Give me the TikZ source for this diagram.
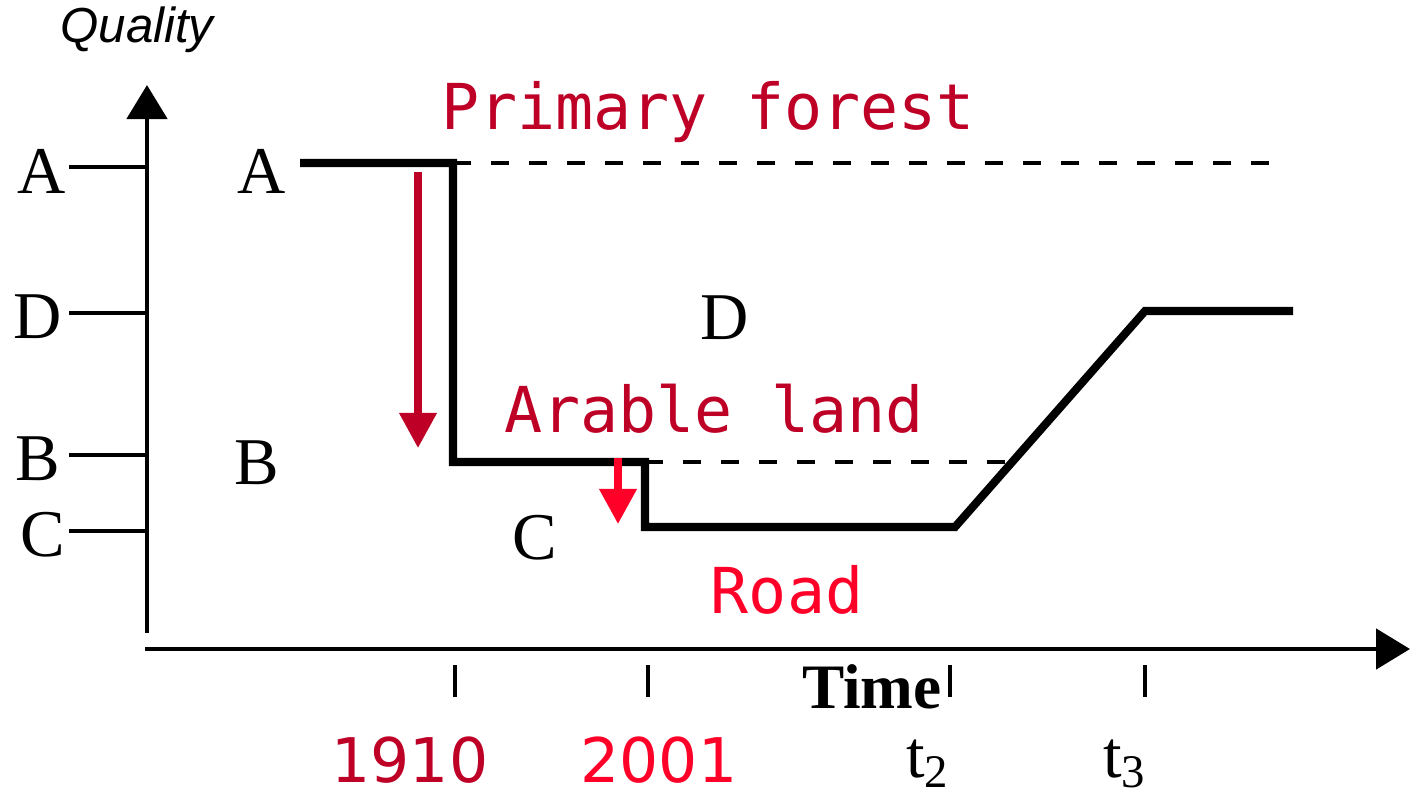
\documentclass[tikz,border=0pt]{standalone}
\usepackage{fontspec}
\setmainfont{Liberation Serif}
\newfontfamily\landfont{DejaVu Sans Mono}
\newfontfamily\yearfont{DejaVu Sans}
\newfontfamily\axisfont{Liberation Sans}
\usetikzlibrary{arrows.meta,positioning}
\definecolor{darkred}{RGB}{190,0,38}
\definecolor{brightred}{RGB}{255,0,41}

\begin{document}
\begin{tikzpicture}[x=0.01cm, y=-0.01cm,
  axis/.style={line width=1.4pt, -{Triangle[length=0.34cm, width=0.4cm]}},
  level/.style={line width=1.4pt},
  guide/.style={line width=1.4pt, dash pattern=on 0.18cm off 0.2cm},
  curve/.style={line width=2.3pt, line join=miter},
  tick/.style={line width=1.1pt},
  change/.style={line width=2pt, -{Triangle[length=0.35cm, width=0.36cm]}},
  grade/.style={inner sep=0pt, font=\fontsize{19}{19}\selectfont},
  landuse/.style={inner sep=0pt, font=\landfont\fontsize{18}{18}\selectfont},
  year/.style={inner sep=0pt, font=\yearfont\fontsize{17.5}{17.5}\selectfont}
]
\useasboundingbox (0,0) rectangle (1410,794);

% Axes
\coordinate (origin) at (147,633);
\coordinate (top) at (147,85);
\coordinate (xstart) at (145,649);
\coordinate (xend) at (1410,649);
\draw[axis] (origin) -- (top);
\draw[axis] (xstart) -- (xend);
\node[inner sep=0pt, font=\axisfont\itshape\fontsize{14}{14}\selectfont] (quality) at (137,30) {Quality};
\node[inner sep=0pt, font=\bfseries\fontsize{18}{18}\selectfont] (time) at (872,687) {Time};

% Quality levels on the axis
\foreach \g/\x/\y in {A/42/167, D/38/313, B/38/455, C/43/531} {
  \node[grade] (lv\g) at (\x,\y+4) {\g};
  \coordinate (ax\g) at (147,\y);
  \draw[level] (69,\y) -- (ax\g);
}

% Quality labels in the plot
\node[grade] (inA) at (262,171) {A};
\node[grade] (inB) at (257,463) {B};
\node[grade] (inC) at (535,538) {C};
\node[grade] (inD) at (725,318) {D};

% Time ticks
\foreach \t/\x in {t0/455, t1/648, t2/950, t3/1145} {
  \coordinate (\t) at (\x,665);
  \draw[tick] (\t) -- ++(0,32);
}
\node[year, text=darkred] (y1910) at (410,760) {1910};
\node[year, text=brightred] (y2001) at (659,760) {2001};
\node[grade] (lt2) at (928,764) {t\textsubscript{2}};
\node[grade] (lt3) at (1125,764) {t\textsubscript{3}};

% Quality curve
\coordinate (c0) at (300,163);
\coordinate (c1) at (453,163);
\coordinate (c2) at (453,462);
\coordinate (c3) at (645,462);
\coordinate (c4) at (645,527);
\coordinate (c5) at (955,527);
\coordinate (c6) at (1145,311);
\coordinate (c7) at (1293,311);
\draw[curve] (c0) -- (c1) -- (c2) -- (c3) -- (c4) -- (c5) -- (c6) -- (c7);
\draw[guide] (c1) -- (1270,163);
\draw[guide] (c3) -- (1005,462);

% Land use changes
\node[landuse, text=darkred] (forest) at (708,112) {Primary forest};
\node[landuse, text=darkred] (arable) at (714,409) {Arable land};
\node[landuse, text=brightred] (road) at (787,590) {Road};
\coordinate (d0) at (418,172);
\coordinate (d1) at (418,448);
\coordinate (e0) at (618,458);
\coordinate (e1) at (618,524);
\draw[change, darkred] (d0) -- (d1);
\draw[change, brightred] (e0) -- (e1);
\end{tikzpicture}
\end{document}
